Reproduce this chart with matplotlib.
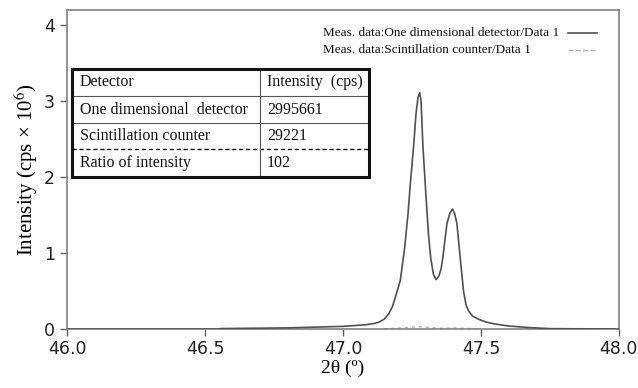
import matplotlib
matplotlib.use("Agg")
import matplotlib.pyplot as plt
from matplotlib.patches import Rectangle
from matplotlib.lines import Line2D

plt.rcParams['mathtext.fontset'] = 'stix'

# 1D detector curve (2theta, intensity x1e6 cps)
two_theta = [46.0, 46.55, 46.56, 46.8, 47.0, 47.08, 47.11, 47.13, 47.15, 47.166, 47.18, 47.19,
             47.208, 47.224, 47.236, 47.244, 47.256, 47.265, 47.272, 47.278, 47.283,
             47.290, 47.301, 47.310, 47.318, 47.328, 47.338, 47.348, 47.356, 47.362,
             47.370, 47.377, 47.388, 47.397, 47.405, 47.413, 47.425, 47.437, 47.446,
             47.455, 47.470, 47.491, 47.520, 47.551, 47.60, 47.671, 47.75, 48.0]
intensity_1d = [0.0, 0.0, 0.006, 0.015, 0.035, 0.055, 0.07, 0.09, 0.13, 0.20, 0.30, 0.42,
                0.64, 1.08, 1.52, 1.90, 2.40, 2.84, 3.05, 3.11, 3.02,
                2.40, 1.75, 1.25, 0.94, 0.72, 0.65, 0.70, 0.80, 0.94,
                1.18, 1.39, 1.53, 1.58, 1.52, 1.39, 0.94, 0.50, 0.32,
                0.24, 0.17, 0.13, 0.09, 0.066, 0.04, 0.02, 0.005, 0.0]

# scintillation counter curve
two_theta_sc = [47.15, 47.20, 47.25, 47.28, 47.30, 47.35, 47.40, 47.45, 47.50]
intensity_sc = [0.005, 0.012, 0.025, 0.031, 0.025, 0.010, 0.016, 0.008, 0.003]

legend_labels = ["Meas. data:One dimensional detector/Data 1",
                 "Meas. data:Scintillation counter/Data 1"]

table_col_labels = ["Detector", "Intensity  (cps)"]
table_rows = [["One dimensional  detector", "2995661"],
              ["Scintillation counter", "29221"],
              ["Ratio of intensity", "102"]]

x_ticks = [46.0, 46.5, 47.0, 47.5, 48.0]
y_ticks = [0, 1, 2, 3, 4]

W, H = 638, 388
def fx(px):
    return px / W
def fy(py):
    return 1 - py / H

fig = plt.figure(figsize=(6.38, 3.88), dpi=100)
ax = fig.add_axes([0.105, 0.152, 0.865, 0.822])

line_1d, = ax.plot(two_theta, intensity_1d, color='#505050', lw=1.2, zorder=3)
line_sc, = ax.plot(two_theta_sc, intensity_sc, color='#b0b0b0', lw=1.0, ls=(0, (2, 3)),
                   zorder=2)

ax.set_xlim(46.0, 48.0)
ax.set_ylim(0, 4.2)
ax.set_xticks(x_ticks)
ax.set_xticklabels([f"{v:.1f}" for v in x_ticks])
ax.set_yticks(y_ticks)
for s in ax.spines.values():
    s.set_color('#808080')
    s.set_linewidth(1.2)
ax.tick_params(axis='both', direction='out', length=5, width=1, color='#606060',
               labelsize=12.5, labelcolor='#222222')
ax.tick_params(axis='x', pad=3)

ax.set_xlabel("2θ (º)", fontsize=14, family='Liberation Serif', labelpad=1)
ax.set_ylabel("Intensity (cps × 10$^6$)", fontsize=15, family='Liberation Serif', labelpad=3)

# legend: left-aligned labels with line samples on the right
legend_rows_y = [33, 50]
for label, src, yy in zip(legend_labels, (line_1d, line_sc), legend_rows_y):
    fig.text(fx(323), fy(yy), label, family='Liberation Serif', fontsize=9.5,
             color='#111111', va='center', ha='left')
    fig.add_artist(Line2D([fx(568), fx(597)], [fy(yy)] * 2, color=src.get_color(),
                          lw=src.get_linewidth(), ls=src.get_linestyle()))

# table drawn in figure pixel coordinates
left, right, mid = 72, 369, 260
row_edges = [69, 96, 123, 149, 177]
fig.add_artist(Rectangle((fx(left), fy(row_edges[-1])), fx(right - left),
                         (row_edges[-1] - row_edges[0]) / H, facecolor='white',
                         edgecolor='none', transform=fig.transFigure, zorder=4))
cells = [table_col_labels] + table_rows
tfont = dict(family='Liberation Serif', fontsize=11.5, color='#111111', va='center',
             ha='left', zorder=6)
for i, row in enumerate(cells):
    yc = (row_edges[i] + row_edges[i + 1]) / 2
    fig.text(fx(left + 8), fy(yc), row[0], **tfont)
    fig.text(fx(mid + 7), fy(yc), row[1], **tfont)
for i in (1, 2):
    fig.add_artist(Line2D([fx(left), fx(right)], [fy(row_edges[i])] * 2,
                          color='#555555', lw=0.8, zorder=5))
fig.add_artist(Line2D([fx(left), fx(right)], [fy(row_edges[3])] * 2,
                      color='#111111', lw=1.0, ls=(0, (3, 2)), zorder=5))
fig.add_artist(Line2D([fx(mid)] * 2, [fy(row_edges[0]), fy(row_edges[-1])],
                      color='#555555', lw=0.8, zorder=5))
fig.add_artist(Rectangle((fx(left), fy(row_edges[-1])), fx(right - left),
                         (row_edges[-1] - row_edges[0]) / H, fill=False,
                         edgecolor='#111111', lw=2.2, transform=fig.transFigure, zorder=6))

fig.savefig("out.png", dpi=100)
